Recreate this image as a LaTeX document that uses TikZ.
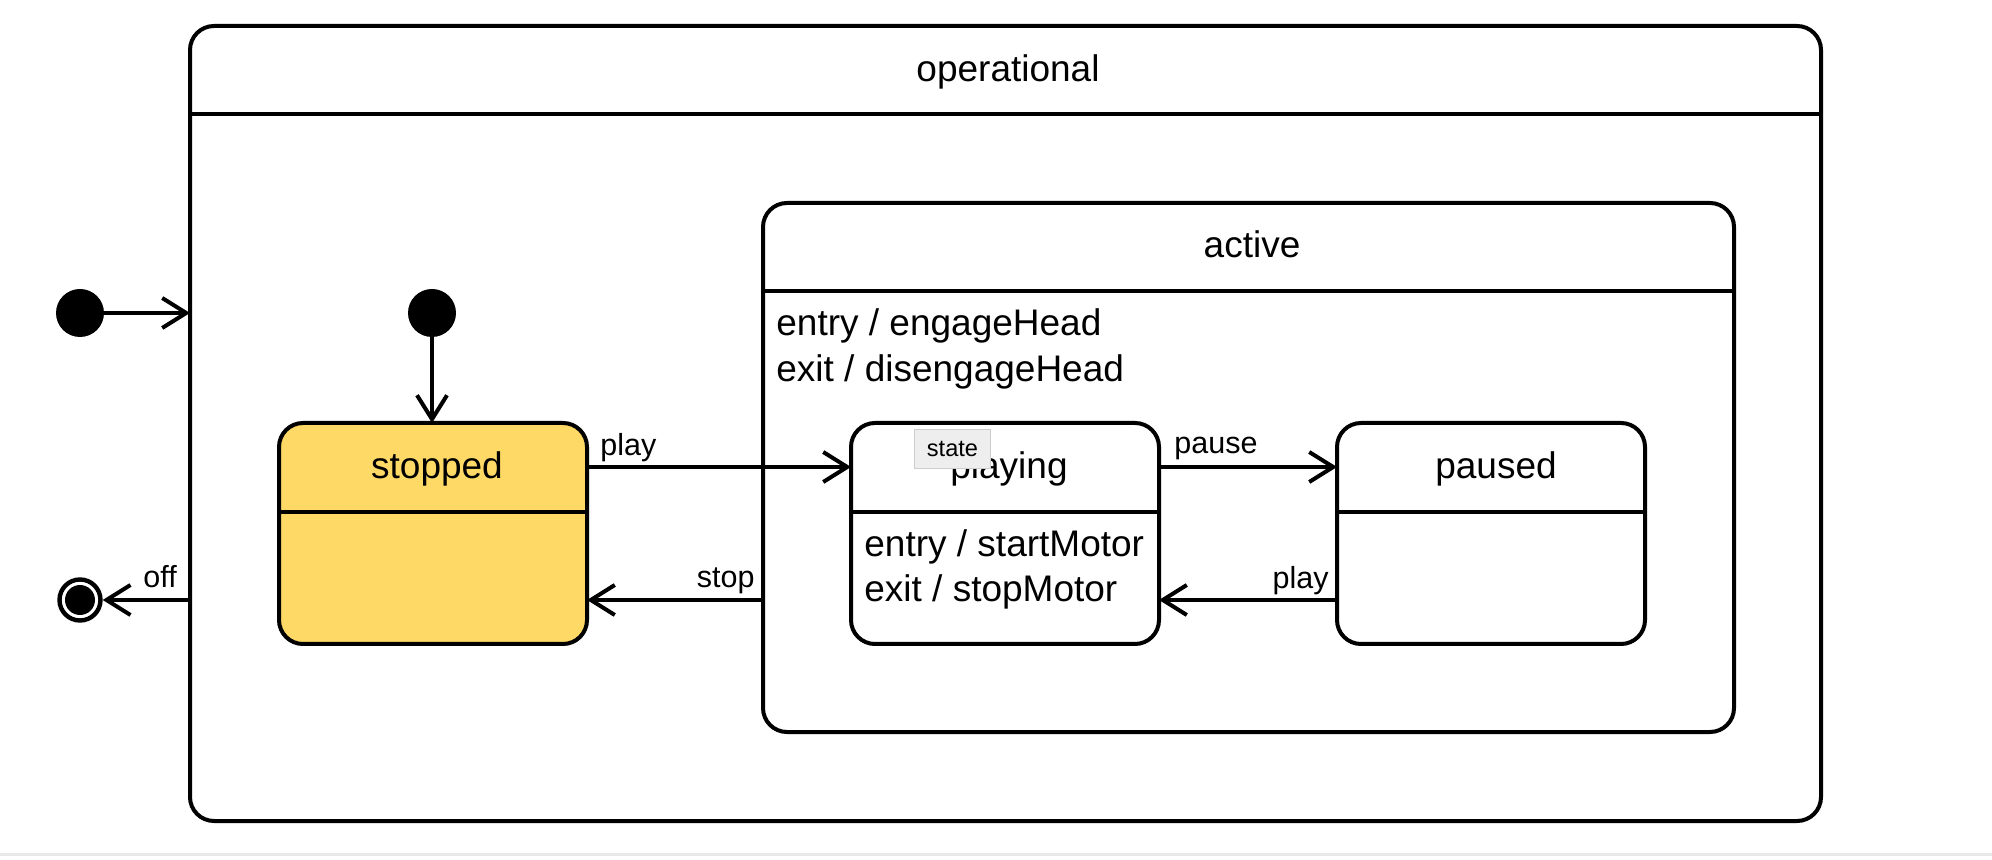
\documentclass[tikz,border=0pt]{standalone}
\usepackage{fontspec}
\setmainfont{Liberation Sans}
\usetikzlibrary{arrows.meta,calc}
\definecolor{stopfill}{RGB}{255,217,102}
\definecolor{tipfill}{RGB}{238,238,238}
\definecolor{tipdraw}{RGB}{205,205,205}
\definecolor{baseline}{RGB}{232,232,232}
\begin{document}
\begin{tikzpicture}[x=0.5pt,y=-0.5pt,
  box/.style={draw, line width=2pt, rounded corners=12pt, anchor=north west, inner sep=0pt, outer sep=0pt},
  divider/.style={line width=2pt},
  big/.style={font=\fontsize{18.5}{22}\selectfont, inner sep=0pt},
  lbl/.style={font=\fontsize{15.25}{18}\selectfont, inner sep=0pt},
  tr/.style={line width=2pt, -{Straight Barb[length=12pt,width=15pt,line width=2pt]}},
  initial/.style={circle, fill=black, inner sep=0pt, minimum size=24pt},
  final/.style={circle, draw=black, line width=2.2pt, inner sep=0pt, minimum size=20.5pt}]
\useasboundingbox (0,0) rectangle (1992,860);
\fill[white] (0,0) rectangle (1992,860);
\draw[line width=1.5pt, draw=baseline] (0,854) -- (1992,854);

\coordinate (y114) at (0,114);
\coordinate (y291) at (0,291);
\coordinate (y512) at (0,512);
\coordinate (y467) at (0,467);
\coordinate (y600) at (0,600);

% operational
\node[box, minimum width=815.5pt, minimum height=397.5pt] (op) at (190,26) {};
\draw[divider] (op.west |- y114) -- (op.east |- y114);
\node[big, anchor=base] (opname) at (1008,82) {operational};

% active
\node[box, minimum width=485.5pt, minimum height=264.5pt] (active) at (763,203) {};
\draw[divider] (active.west |- y291) -- (active.east |- y291);
\node[big, anchor=base] (activename) at (1252,258) {active};
\node[big, anchor=base west] (aentry) at (776,336) {entry / engageHead};
\node[big, anchor=base west] (aexit) at (776,382) {exit / disengageHead};

% stopped
\node[box, fill=stopfill, minimum width=154pt, minimum height=110.5pt] (stopped) at (279,423) {};
\draw[divider] (stopped.west |- y512) -- (stopped.east |- y512);
\node[big, anchor=base] (stoppedname) at (437,479) {stopped};

% playing
\node[box, minimum width=154pt, minimum height=110.5pt] (playing) at (851,423) {};
\draw[divider] (playing.west |- y512) -- (playing.east |- y512);
\node[big, anchor=base] (playingname) at (1009,479) {playing};
\node[big, anchor=base west] (pentry) at (864,557) {entry / startMotor};
\node[big, anchor=base west] (pexit) at (864,602) {exit / stopMotor};

% paused
\node[box, minimum width=154pt, minimum height=110.5pt] (paused) at (1337,423) {};
\draw[divider] (paused.west |- y512) -- (paused.east |- y512);
\node[big, anchor=base] (pausedname) at (1496,479) {paused};

% pseudostates
\node[initial] (i1) at (80,313) {};
\node[initial] (i2) at (432,313) {};
\node[final] (fin) at (80,600) {};
\fill (fin.center) circle[radius=7.5pt];

% transitions
\draw[tr] (i1) -- (i1 -| op.west);
\draw[tr] (i2) -- (i2 |- stopped.north);
\draw[tr] (op.west |- fin) -- (fin);
\node[lbl, anchor=base west] (offlbl) at (143,588) {off};

\draw[tr] (stopped.east |- y467) -- (playing.west |- y467);
\node[lbl, anchor=base west] (playlbl) at (600,456) {play};

\draw[tr] (active.west |- y600) -- (stopped.east |- y600);
\node[lbl, anchor=base east] (stoplbl) at (755,588) {stop};

\draw[tr] (playing.east |- y467) -- (paused.west |- y467);
\node[lbl, anchor=base west] (pauselbl) at (1174,454) {pause};

\draw[tr] (paused.west |- y600) -- (playing.east |- y600);
\node[lbl, anchor=base east] (play2lbl) at (1329,589) {play};

% tooltip
\node[draw=tipdraw, fill=tipfill, line width=0.5pt, anchor=north west, inner sep=0pt,
      minimum width=38pt, minimum height=19.5pt, font=\fontsize{11.8}{14}\selectfont] (tip) at (914,429) {state};
\end{tikzpicture}
\end{document}
